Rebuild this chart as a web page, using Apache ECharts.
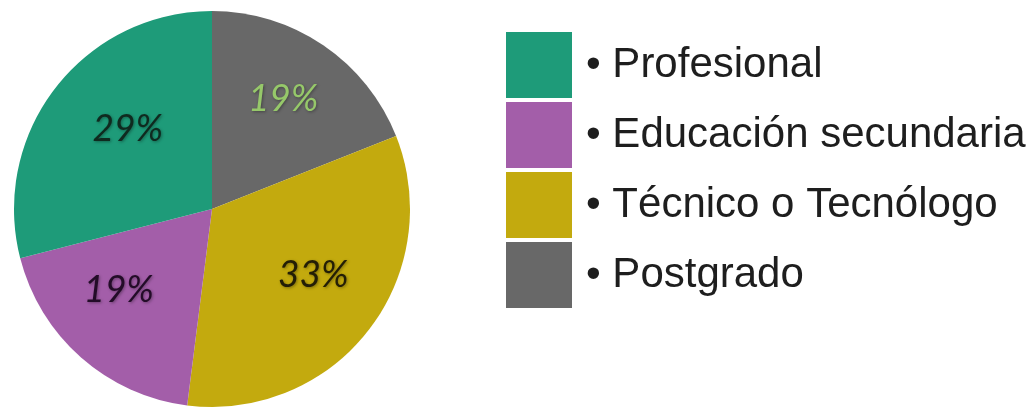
<!DOCTYPE html>
<html>
<head>
<meta charset="utf-8">
<script src="https://cdn.jsdelivr.net/npm/echarts@6/dist/echarts.min.js"></script>
<style>
  html, body { margin: 0; padding: 0; background: #ffffff; }
  #chart { width: 1036px; height: 408px; }
</style>
</head>
<body>
<div id="chart"></div>
<script>
// Education level shares (percent), clockwise from 12 o'clock
const categories = ['Postgrado', 'Técnico o Tecnólogo', 'Educación secundaria', 'Profesional'];
const shares = [19, 33, 19, 29];
const legendOrder = ['Profesional', 'Educación secundaria', 'Técnico o Tecnólogo', 'Postgrado'];

// Visual styling per category
const sliceColors = {
  'Postgrado': '#686868',
  'Técnico o Tecnólogo': '#c3aa0e',
  'Educación secundaria': '#a35ea9',
  'Profesional': '#1e9b79'
};
const labelColors = {
  'Postgrado': '#96c86a',
  'Técnico o Tecnólogo': '#231e06',
  'Educación secundaria': '#230c28',
  'Profesional': '#0f2a1f'
};
const labelNudge = {
  'Postgrado': [2, -8],
  'Técnico o Tecnólogo': [4, -9],
  'Educación secundaria': [-12, -11],
  'Profesional': [13, -5]
};

const center = [212, 209];
const R = 198;

const sliceData = categories.map((name, i) => ({
  name: name,
  value: shares[i],
  itemStyle: { color: sliceColors[name] }
}));

// A transparent ring twice as wide carries the percentage labels a bit further out
const labelData = categories.map((name, i) => ({
  name: name,
  value: shares[i],
  label: {
    color: labelColors[name],
    offset: labelNudge[name]
  }
}));

const chart = echarts.init(document.getElementById('chart'), null, { renderer: 'canvas' });
chart.setOption({
  backgroundColor: '#ffffff',
  animation: false,
  legend: {
    data: legendOrder,
    orient: 'vertical',
    left: 506,
    top: 32,
    padding: 0,
    icon: 'rect',
    itemWidth: 66,
    itemHeight: 66,
    itemGap: 4,
    selectedMode: false,
    formatter: '• {name}',
    textStyle: {
      fontFamily: 'Liberation Sans, Arial, sans-serif',
      fontSize: 42,
      color: '#1e1e1e',
      padding: [0, 0, 0, 9]
    }
  },
  series: [
    {
      type: 'pie',
      center: center,
      radius: [0, R],
      startAngle: 90,
      clockwise: true,
      silent: true,
      label: { show: false },
      labelLine: { show: false },
      itemStyle: { borderWidth: 0 },
      data: sliceData
    },
    {
      type: 'pie',
      center: center,
      radius: [0, 240],
      startAngle: 90,
      clockwise: true,
      silent: true,
      legendHoverLink: false,
      itemStyle: { color: 'rgba(0,0,0,0)', borderWidth: 0 },
      labelLine: { show: false },
      label: {
        show: true,
        position: 'inside',
        formatter: '{c}%',
        fontFamily: 'Lato, "Open Sans", sans-serif',
        fontStyle: 'italic',
        fontSize: 37,
        textShadowColor: 'rgba(0,0,0,0.35)',
        textShadowBlur: 3,
        textShadowOffsetX: 1,
        textShadowOffsetY: 1
      },
      data: labelData
    }
  ]
});
</script>
</body>
</html>
